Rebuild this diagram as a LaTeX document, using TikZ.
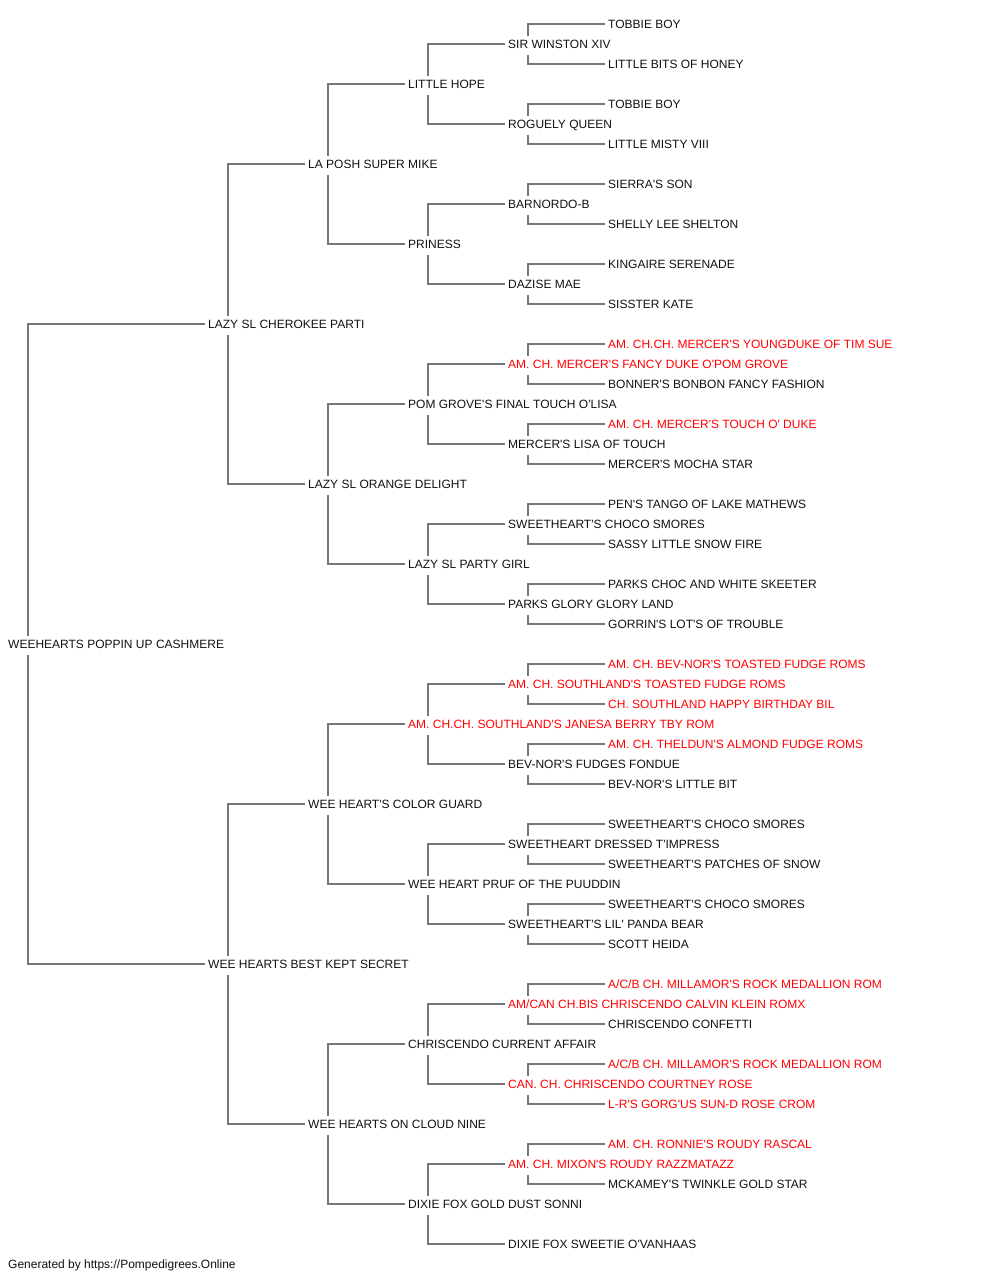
\documentclass[tikz,border=0pt]{standalone}
\usepackage{fontspec}
\setmainfont{Liberation Sans}[Ligatures=TeXOff]
\usepackage{xcolor}
\usepackage{tikz}
\definecolor{PED_LINE}{HTML}{777777}
\definecolor{PED_TEXT}{HTML}{111111}
\definecolor{PED_RED}{HTML}{FF0000}
\tikzset{
  dog/.style={
    anchor=base west, inner xsep=0pt, inner ysep=3pt,
    text height=9.5pt, text depth=3pt,
    text=PED_TEXT, font=\fontsize{12}{14}\selectfont},
  champ/.style={dog, text=PED_RED},
  link/.style={draw=PED_LINE, line width=1.5pt},
}

\begin{document}
\begin{tikzpicture}[x=1pt, y=-1pt]
  \useasboundingbox (0,-1) rectangle (1000,1279);

  \node[dog] (P) at (8,647.5) {WEEHEARTS POPPIN UP CASHMERE};

  \node[dog] (Ps) at (208,327.5) {LAZY SL CHEROKEE PARTI};
  \node[dog] (Pd) at (208,967.5) {WEE HEARTS BEST KEPT SECRET};

  \node[dog] (Pss) at (308,167.5) {LA POSH SUPER MIKE};
  \node[dog] (Psd) at (308,487.5) {LAZY SL ORANGE DELIGHT};
  \node[dog] (Pds) at (308,807.5) {WEE HEART'S COLOR GUARD};
  \node[dog] (Pdd) at (308,1127.5) {WEE HEARTS ON CLOUD NINE};

  \node[dog] (Psss) at (408,87.5) {LITTLE HOPE};
  \node[dog] (Pssd) at (408,247.5) {PRINESS};
  \node[dog] (Psds) at (408,407.5) {POM GROVE'S FINAL TOUCH O'LISA};
  \node[dog] (Psdd) at (408,567.5) {LAZY SL PARTY GIRL};
  \node[champ] (Pdss) at (408,727.5) {AM. CH.CH. SOUTHLAND'S JANESA BERRY TBY ROM};
  \node[dog] (Pdsd) at (408,887.5) {WEE HEART PRUF OF THE PUUDDIN};
  \node[dog] (Pdds) at (408,1047.5) {CHRISCENDO CURRENT AFFAIR};
  \node[dog] (Pddd) at (408,1207.5) {DIXIE FOX GOLD DUST SONNI};

  \node[dog] (Pssss) at (508,47.5) {SIR WINSTON XIV};
  \node[dog] (Psssd) at (508,127.5) {ROGUELY QUEEN};
  \node[dog] (Pssds) at (508,207.5) {BARNORDO-B};
  \node[dog] (Pssdd) at (508,287.5) {DAZISE MAE};
  \node[champ] (Psdss) at (508,367.5) {AM. CH. MERCER'S FANCY DUKE O'POM GROVE};
  \node[dog] (Psdsd) at (508,447.5) {MERCER'S LISA OF TOUCH};
  \node[dog] (Psdds) at (508,527.5) {SWEETHEART'S CHOCO SMORES};
  \node[dog] (Psddd) at (508,607.5) {PARKS GLORY GLORY LAND};
  \node[champ] (Pdsss) at (508,687.5) {AM. CH. SOUTHLAND'S TOASTED FUDGE ROMS};
  \node[dog] (Pdssd) at (508,767.5) {BEV-NOR'S FUDGES FONDUE};
  \node[dog] (Pdsds) at (508,847.5) {SWEETHEART DRESSED T'IMPRESS};
  \node[dog] (Pdsdd) at (508,927.5) {SWEETHEART'S LIL' PANDA BEAR};
  \node[champ] (Pddss) at (508,1007.5) {AM/CAN CH.BIS CHRISCENDO CALVIN KLEIN ROMX};
  \node[champ] (Pddsd) at (508,1087.5) {CAN. CH. CHRISCENDO COURTNEY ROSE};
  \node[champ] (Pddds) at (508,1167.5) {AM. CH. MIXON'S ROUDY RAZZMATAZZ};
  \node[dog] (Pdddd) at (508,1247.5) {DIXIE FOX SWEETIE O'VANHAAS};

  \node[dog] (Psssss) at (608,27.5) {TOBBIE BOY};
  \node[dog] (Pssssd) at (608,67.5) {LITTLE BITS OF HONEY};
  \node[dog] (Psssds) at (608,107.5) {TOBBIE BOY};
  \node[dog] (Psssdd) at (608,147.5) {LITTLE MISTY VIII};
  \node[dog] (Pssdss) at (608,187.5) {SIERRA'S SON};
  \node[dog] (Pssdsd) at (608,227.5) {SHELLY LEE SHELTON};
  \node[dog] (Pssdds) at (608,267.5) {KINGAIRE SERENADE};
  \node[dog] (Pssddd) at (608,307.5) {SISSTER KATE};
  \node[champ] (Psdsss) at (608,347.5) {AM. CH.CH. MERCER'S YOUNGDUKE OF TIM SUE};
  \node[dog] (Psdssd) at (608,387.5) {BONNER'S BONBON FANCY FASHION};
  \node[champ] (Psdsds) at (608,427.5) {AM. CH. MERCER'S TOUCH O' DUKE};
  \node[dog] (Psdsdd) at (608,467.5) {MERCER'S MOCHA STAR};
  \node[dog] (Psddss) at (608,507.5) {PEN'S TANGO OF LAKE MATHEWS};
  \node[dog] (Psddsd) at (608,547.5) {SASSY LITTLE SNOW FIRE};
  \node[dog] (Psddds) at (608,587.5) {PARKS CHOC AND WHITE SKEETER};
  \node[dog] (Psdddd) at (608,627.5) {GORRIN'S LOT'S OF TROUBLE};
  \node[champ] (Pdssss) at (608,667.5) {AM. CH. BEV-NOR'S TOASTED FUDGE ROMS};
  \node[champ] (Pdsssd) at (608,707.5) {CH. SOUTHLAND HAPPY BIRTHDAY BIL};
  \node[champ] (Pdssds) at (608,747.5) {AM. CH. THELDUN'S ALMOND FUDGE ROMS};
  \node[dog] (Pdssdd) at (608,787.5) {BEV-NOR'S LITTLE BIT};
  \node[dog] (Pdsdss) at (608,827.5) {SWEETHEART'S CHOCO SMORES};
  \node[dog] (Pdsdsd) at (608,867.5) {SWEETHEART'S PATCHES OF SNOW};
  \node[dog] (Pdsdds) at (608,907.5) {SWEETHEART'S CHOCO SMORES};
  \node[dog] (Pdsddd) at (608,947.5) {SCOTT HEIDA};
  \node[champ] (Pddsss) at (608,987.5) {A/C/B CH. MILLAMOR'S ROCK MEDALLION ROM};
  \node[dog] (Pddssd) at (608,1027.5) {CHRISCENDO CONFETTI};
  \node[champ] (Pddsds) at (608,1067.5) {A/C/B CH. MILLAMOR'S ROCK MEDALLION ROM};
  \node[champ] (Pddsdd) at (608,1107.5) {L-R'S GORG'US SUN-D ROSE CROM};
  \node[champ] (Pdddss) at (608,1147.5) {AM. CH. RONNIE'S ROUDY RASCAL};
  \node[dog] (Pdddsd) at (608,1187.5) {MCKAMEY'S TWINKLE GOLD STAR};

  \node[dog] (credit) at (8,1267.5) {Generated by https://Pompedigrees.Online};

  \foreach \n in {P,Ps,Pd,Pss,Psd,Pds,Pdd,%
    Psss,Pssd,Psds,Psdd,Pdss,Pdsd,Pdds,Pddd,%
    Pssss,Psssd,Pssds,Pssdd,Psdss,Psdsd,Psdds,Psddd,%
    Pdsss,Pdssd,Pdsds,Pdsdd,Pddss,Pddsd,Pddds}{
    \draw[link] ([xshift=20pt]\n.north west) |- ([xshift=-3pt,yshift=2pt]\n s.mid west);
    \draw[link] ([xshift=20pt]\n.south west) |- ([xshift=-3pt,yshift=2pt]\n d.mid west);
  }

\end{tikzpicture}
\end{document}
